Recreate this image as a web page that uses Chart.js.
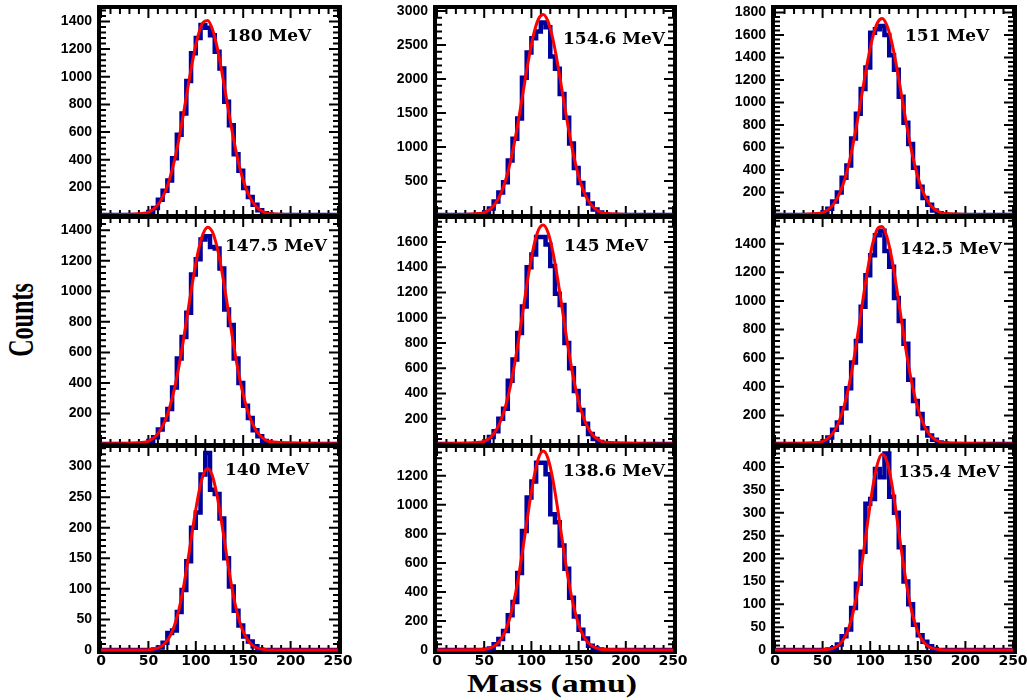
<!DOCTYPE html>
<html>
<head>
<meta charset="utf-8">
<script src="https://cdn.jsdelivr.net/npm/chart.js@4.4.1/dist/chart.umd.min.js"></script>
<style>
  body { margin: 0; background: #fff; }
  #page { position: relative; width: 1027px; height: 700px; overflow: hidden; background: #fff; }
  #page canvas { position: absolute; }
  .axis-title { position: absolute; font-family: 'Liberation Serif', 'Times New Roman', serif; font-weight: bold; color: #000; white-space: nowrap; line-height: 1; }
  #ytitle { font-size: 36px; left: 21px; top: 320px; transform: translate(-50%, -50%) rotate(-90deg) scaleX(0.67); }
  #xtitle { font-size: 26px; left: 552px; top: 684px; transform: translate(-50%, -50%) scaleX(1.3); }
</style>
</head>
<body>
<div id="page">
  <div class="axis-title" id="ytitle">Counts</div>
  <div class="axis-title" id="xtitle">Mass (amu)</div>
</div>
<script>
// bin centres (5 amu bins), everything outside is empty
const binCenters = [47.5, 52.5, 57.5, 62.5, 67.5, 72.5, 77.5, 82.5, 87.5, 92.5, 97.5, 102.5, 107.5,
    112.5, 117.5, 122.5, 127.5, 132.5, 137.5, 142.5, 147.5, 152.5, 157.5, 162.5, 167.5, 172.5, 177.5];
const massTicks = [0, 50, 100, 150, 200, 250];

const energyLabels = ['180 MeV', '154.6 MeV', '151 MeV', '147.5 MeV', '145 MeV', '142.5 MeV', '140 MeV', '138.6 MeV', '135.4 MeV'];

const counts180 = [5, 22, 50, 110, 175, 250, 410, 580, 735, 970, 1170, 1280, 1375, 1355, 1300, 1180, 1060, 820, 650, 440, 320, 195, 130, 75, 35, 12, 4];
const fit180 = [15, 29, 55, 98, 165, 263, 395, 561, 754, 957, 1147, 1299, 1391, 1406, 1344, 1214, 1035, 835, 636, 458, 311, 200, 122, 70, 38, 19, 9];

const counts154 = [10, 40, 95, 200, 330, 480, 800, 1120, 1420, 2020, 2390, 2600, 2700, 2830, 2760, 2330, 2150, 1780, 1430, 1050, 690, 470, 300, 170, 80, 35, 10];
const fit154 = [27, 53, 102, 183, 312, 503, 765, 1099, 1493, 1916, 2325, 2664, 2883, 2949, 2851, 2603, 2247, 1832, 1412, 1028, 707, 459, 282, 164, 90, 47, 23];

const counts151 = [5, 25, 55, 120, 200, 330, 440, 680, 900, 1120, 1310, 1620, 1650, 1680, 1600, 1420, 1290, 1050, 820, 630, 420, 250, 150, 90, 40, 15, 5];
const fit151 = [16, 32, 60, 109, 185, 298, 452, 650, 883, 1134, 1375, 1576, 1706, 1745, 1686, 1540, 1329, 1084, 835, 608, 418, 272, 167, 97, 53, 28, 13];

const counts147 = [5, 20, 45, 95, 160, 230, 370, 560, 700, 860, 1110, 1210, 1340, 1360, 1290, 1280, 1150, 880, 780, 560, 400, 250, 170, 90, 50, 20, 5];
const fit147 = [14, 27, 51, 90, 151, 241, 363, 519, 703, 902, 1095, 1261, 1374, 1420, 1389, 1288, 1132, 941, 741, 554, 392, 263, 167, 100, 57, 31, 16];

const counts145 = [5, 20, 55, 100, 200, 280, 500, 670, 880, 1090, 1400, 1500, 1640, 1640, 1580, 1410, 1190, 1100, 800, 600, 420, 270, 160, 80, 40, 15, 5];
const fit145 = [16, 31, 60, 108, 184, 296, 450, 647, 878, 1127, 1368, 1567, 1696, 1734, 1677, 1531, 1322, 1078, 830, 605, 416, 270, 166, 96, 53, 27, 13];

const counts142 = [5, 20, 45, 100, 150, 250, 390, 570, 720, 960, 1180, 1320, 1460, 1490, 1350, 1240, 1020, 860, 700, 450, 300, 210, 110, 60, 30, 10, 3];
const fit142 = [13, 26, 51, 93, 161, 262, 401, 580, 791, 1015, 1227, 1399, 1503, 1521, 1450, 1303, 1103, 880, 661, 468, 313, 197, 117, 65, 34, 17, 8];

const counts140 = [0, 0, 1, 4, 12, 28, 32, 62, 98, 145, 200, 225, 287, 322, 262, 255, 215, 150, 104, 64, 40, 22, 14, 6, 1, 0, 0];
const fit140 = [0, 1, 2, 5, 11, 22, 40, 68, 107, 155, 206, 252, 285, 297, 285, 252, 206, 155, 107, 68, 40, 22, 11, 5, 2, 1, 0];

const counts138 = [0, 2, 10, 40, 75, 130, 240, 330, 530, 820, 1050, 1160, 1290, 1290, 1210, 935, 880, 720, 560, 360, 230, 140, 80, 30, 10, 3, 0];
const fit138 = [3, 7, 16, 35, 71, 132, 229, 368, 550, 764, 986, 1183, 1321, 1370, 1321, 1183, 986, 764, 550, 368, 229, 132, 71, 35, 16, 7, 3];

const counts135 = [0, 0, 1, 4, 12, 30, 45, 92, 145, 215, 320, 330, 396, 378, 430, 335, 300, 225, 150, 100, 55, 32, 18, 8, 2, 0, 0];
const fit135 = [0, 1, 2, 5, 12, 25, 48, 86, 139, 207, 282, 354, 406, 428, 413, 366, 297, 222, 152, 95, 55, 29, 14, 6, 3, 1, 0];

const countSeries = [counts180, counts154, counts151, counts147, counts145, counts142, counts140, counts138, counts135];
const fitSeries = [fit180, fit154, fit151, fit147, fit145, fit142, fit140, fit138, fit135];

// y axis per panel
const yMax = [1490, 3030, 1830, 1480, 1790, 1580, 332, 1398, 444];
const yStep = [200, 500, 200, 200, 200, 200, 50, 200, 50];
const yMinor = [40, 100, 40, 40, 40, 40, 10, 40, 10];

// page layout (plot frame edges in px)
const colX = [[101, 338], [437, 673], [775, 1013]];
const rowY = [[9, 215], [218, 444], [447, 650]];
const labelOffset = [[126, 28], [126, 31], [130, 28], [124, 29], [127, 29], [125, 32], [124, 24], [126, 25], [123, 26]];

const Y_AXIS_W = 62;
const PAD_TOP = 22;
const PAD_RIGHT = 20;

function histPoints(counts) {
    const last = binCenters.length - 1;
    const pts = [{ x: 0, y: 0 }, { x: binCenters[0] - 5, y: 0 }];
    binCenters.forEach((m, i) => pts.push({ x: m, y: counts[i] }));
    pts.push({ x: binCenters[last] + 5, y: 0 }, { x: 250, y: 0 });
    return pts;
}

function fitPoints(fit) {
    return [{ x: 0, y: 0 }, ...binCenters.map((m, i) => ({ x: m, y: fit[i] })), { x: 250, y: 0 }];
}

// black frame with ROOT-like inward ticks on all four sides
const framePlugin = {
    id: 'frame',
    beforeDatasetsDraw(chart, args, opts) {
        const { ctx, chartArea: a, scales } = chart;
        ctx.save();
        ctx.strokeStyle = '#000';
        ctx.lineWidth = 4;
        ctx.strokeRect(a.left - 2, a.top - 2, a.right - a.left + 4, a.bottom - a.top + 4);
        ctx.lineWidth = 2;
        ctx.beginPath();
        for (let k = 0; k <= 25; k++) {
            const v = k * 10;
            const px = scales.x.getPixelForValue(v);
            const len = v % 50 === 0 ? 9 : 5;
            ctx.moveTo(px, a.top);
            ctx.lineTo(px, a.top + len);
            ctx.moveTo(px, a.bottom);
            ctx.lineTo(px, a.bottom - len);
        }
        const per = Math.round(opts.major / opts.minor);
        for (let k = 0; k * opts.minor <= scales.y.max; k++) {
            const py = scales.y.getPixelForValue(k * opts.minor);
            const len = k % per === 0 ? 9 : 5;
            ctx.moveTo(a.left, py);
            ctx.lineTo(a.left + len, py);
            ctx.moveTo(a.right, py);
            ctx.lineTo(a.right - len, py);
        }
        ctx.stroke();
        ctx.restore();
    }
};

const energyLabelPlugin = {
    id: 'energyLabel',
    afterDatasetsDraw(chart, args, opts) {
        const { ctx, chartArea: a } = chart;
        ctx.save();
        ctx.font = 'bold 17px "DejaVu Serif", serif';
        ctx.fillStyle = '#000';
        ctx.textBaseline = 'middle';
        ctx.textAlign = 'left';
        ctx.fillText(opts.text, a.left + opts.dx, a.top + opts.dy);
        ctx.restore();
    }
};

const page = document.getElementById('page');

energyLabels.forEach((label, i) => {
    const col = i % 3;
    const row = Math.floor(i / 3);
    const bottomRow = row === 2;
    const [L, R] = colX[col];
    const [T, B] = rowY[row];
    const padB = bottomRow ? 34 : 22;

    const canvas = document.createElement('canvas');
    canvas.width = R - L + Y_AXIS_W + PAD_RIGHT;
    canvas.height = B - T + PAD_TOP + padB;
    canvas.style.left = (L - Y_AXIS_W) + 'px';
    canvas.style.top = (T - PAD_TOP) + 'px';
    page.appendChild(canvas);

    const yTicks = [];
    for (let k = 0; k * yStep[i] <= yMax[i]; k++) yTicks.push(k * yStep[i]);

    new Chart(canvas, {
        type: 'line',
        data: {
            datasets: [
                {
                    data: fitPoints(fitSeries[i]),
                    borderColor: '#ff0000',
                    borderWidth: 3,
                    pointRadius: 0,
                    cubicInterpolationMode: 'monotone',
                    fill: false,
                    clip: 8
                },
                {
                    data: histPoints(countSeries[i]),
                    borderColor: '#00009c',
                    borderWidth: 4.5,
                    pointRadius: 0,
                    stepped: 'middle',
                    fill: false,
                    clip: 8
                }
            ]
        },
        options: {
            responsive: false,
            animation: false,
            events: [],
            layout: { padding: { top: PAD_TOP, right: PAD_RIGHT, left: 0, bottom: 0 } },
            plugins: {
                legend: { display: false },
                tooltip: { enabled: false },
                frame: { major: yStep[i], minor: yMinor[i] },
                energyLabel: { text: label, dx: labelOffset[i][0], dy: labelOffset[i][1] }
            },
            scales: {
                x: {
                    type: 'linear',
                    min: massTicks[0],
                    max: massTicks[massTicks.length - 1],
                    grid: { display: false, drawTicks: false },
                    border: { display: false },
                    afterBuildTicks: scale => { scale.ticks = massTicks.map(v => ({ value: v })); },
                    ticks: {
                        display: bottomRow,
                        padding: 3,
                        maxRotation: 0,
                        autoSkip: false,
                        color: '#000',
                        font: { family: 'DejaVu Sans', size: 14, weight: 'bold' },
                        callback: v => String(v)
                    },
                    afterFit: scale => { scale.height = padB; }
                },
                y: {
                    type: 'linear',
                    min: 0,
                    max: yMax[i],
                    grid: { display: false, drawTicks: false },
                    border: { display: false },
                    afterBuildTicks: scale => { scale.ticks = yTicks.map(v => ({ value: v })); },
                    ticks: {
                        padding: 9,
                        autoSkip: false,
                        color: '#000',
                        font: { family: 'Liberation Sans', size: 14, weight: 'bold' },
                        callback: v => (v === 0 && !bottomRow) ? '' : String(v)
                    },
                    afterFit: scale => { scale.width = Y_AXIS_W; }
                }
            }
        },
        plugins: [framePlugin, energyLabelPlugin]
    });
});
</script>
</body>
</html>
